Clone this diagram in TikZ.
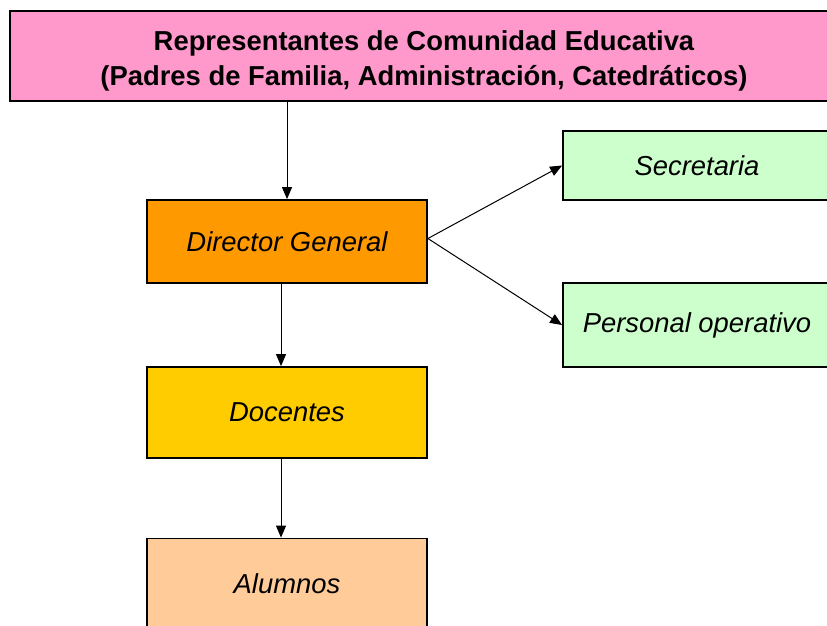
\documentclass[tikz,border=0pt]{standalone}
\usepackage{fontspec}
\setmainfont{Liberation Sans}
\usetikzlibrary{arrows.meta}
\begin{document}
\begin{tikzpicture}[x=1pt,y=-1pt]
\tikzstyle{box}=[rectangle,draw=black,line width=1.8pt,inner sep=0pt,font=\fontsize{27.4}{33}\selectfont\itshape]
\tikzstyle{rep}=[box,fill={rgb,255:red,255;green,153;blue,204},font=\fontsize{27.4}{35}\selectfont\bfseries,align=center]
\tikzstyle{dir}=[box,fill={rgb,255:red,255;green,153;blue,0}]
\tikzstyle{doc}=[box,fill={rgb,255:red,255;green,204;blue,0}]
\tikzstyle{alu}=[box,fill={rgb,255:red,255;green,204;blue,153}]
\tikzstyle{staff}=[box,fill={rgb,255:red,204;green,255;blue,204}]
\tikzstyle{arr}=[-{Triangle[length=12pt,width=10pt]},line width=1pt]

\useasboundingbox (0,0) rectangle (827,625);
\clip (0,0) rectangle (827,625);

%top of the chart.
\node[rep,minimum width=828,text height=75,text depth=15,anchor=north] (comunidad) at (424,10) {Representantes de Comunidad Educativa\\(Padres de Familia, Administraci\'on, Catedr\'aticos)};

\node[dir,minimum width=280,minimum height=83] (dirGen) at (287,241.5) {Director General};
\node[doc,minimum width=280,minimum height=91] (docentes) at (287,412.5) {Docentes};
\node[alu,minimum width=280,minimum height=91] (alumnos) at (287,584) {Alumnos};

\node[staff,minimum width=268,minimum height=69] (secretaria) at (697,165.5) {Secretaria};
\node[staff,minimum width=268,minimum height=84] (personal) at (697,325) {Personal operativo};

\draw[arr] (comunidad.south -| dirGen) -- (dirGen.north);
\draw[arr] ([xshift=-6]dirGen.south) -- ([xshift=-6]docentes.north);
\draw[arr] ([xshift=-6]docentes.south) -- ([xshift=-6]alumnos.north);

\draw[arr] ([yshift=3]dirGen.east) -- (secretaria.west);
\draw[arr] ([yshift=3]dirGen.east) -- (personal.west);

\end{tikzpicture}
\end{document}
